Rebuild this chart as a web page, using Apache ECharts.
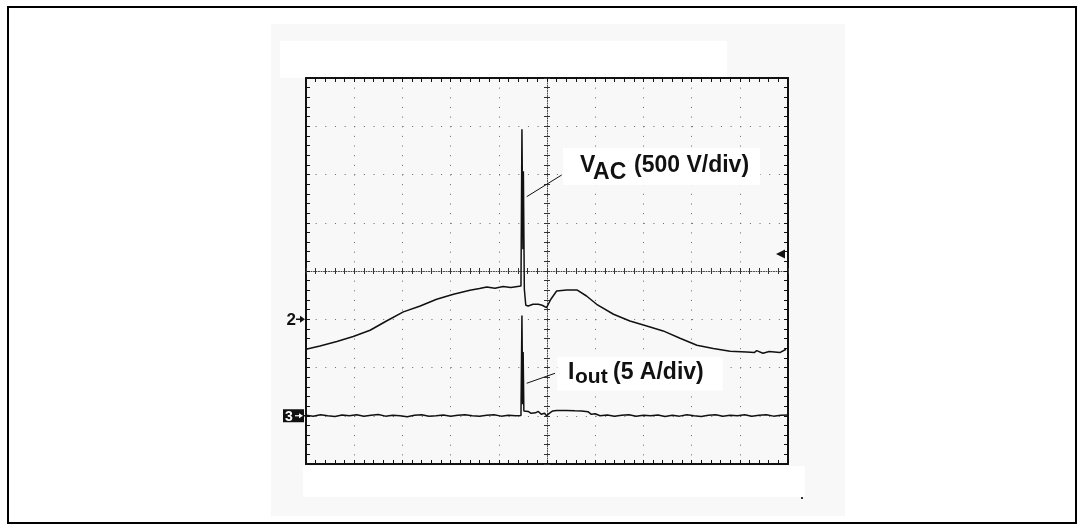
<!DOCTYPE html>
<html>
<head>
<meta charset="utf-8">
<script src="https://cdn.jsdelivr.net/npm/echarts@6/dist/echarts.min.js"></script>
<style>
  html, body { margin: 0; padding: 0; background: #ffffff; }
  #scope { width: 1084px; height: 531px; }
</style>
</head>
<body>
<div id="scope"></div>
<script>
// Scope screen: 10 horizontal divisions (time), 8 vertical divisions.
// Channel 2 = line voltage (500 V/div), channel 3 = output current (5 A/div).
const VOLTS_PER_DIV = 500;
const AMPS_PER_DIV = 5;
const CH2_OFFSET_DIV = -1;   // ground marker "2"
const CH3_OFFSET_DIV = -3;   // ground marker "3"
const TRIGGER_V = 675;       // trigger level on channel 2

// Channel 2: V_AC (time in divisions, volts)
const vacT = [0.00, 0.29, 0.64, 0.98, 1.33, 1.67, 2.02, 2.37, 2.71, 3.06, 3.40, 3.60, 3.75, 3.92, 4.09, 4.25, 4.46,
              4.48, 4.50, 4.51, 4.53, 4.56,
              4.61, 4.71, 4.82, 4.90, 4.99, 5.08, 5.20, 5.41, 5.62, 5.82, 6.03, 6.38, 6.72, 7.07, 7.41, 7.76,
              8.11, 8.45, 8.80, 9.14, 9.30, 9.35, 9.48, 9.61, 9.83, 9.96];
const vacV = [-311, -277, -231, -179, -114, -18, 76, 138, 207, 259, 301, 318, 335, 321, 339, 330, 345,
              1969, 725, 1534, 311, 145,
              138, 155, 155, 145, 121, 207, 293, 304, 304, 241, 155, 52, -18, -69, -121, -197,
              -269, -304, -332, -339, -345, -325, -352, -335, -345, -311];

// Channel 3: I_out (time in divisions, amperes)
const ioutT = [0, 0.15, 0.3, 0.45, 0.6, 0.75, 0.9, 1.05, 1.2, 1.35, 1.5, 1.65, 1.8, 1.95, 2.1, 2.25, 2.4, 2.55,
               2.7, 2.85, 3.0, 3.15, 3.3, 3.45, 3.6, 3.75, 3.9, 4.05, 4.2, 4.35, 4.46,
               4.47, 4.48, 4.495, 4.505, 4.52,
               4.61, 4.67, 4.71, 4.76, 4.82, 4.88, 4.95, 4.99, 5.06, 5.12, 5.2, 5.4, 5.58, 5.72, 5.85, 5.92, 6.0, 6.1,
               6.25, 6.4, 6.55, 6.7, 6.85, 7.0, 7.15, 7.3, 7.45, 7.6, 7.75, 7.9, 8.05, 8.2, 8.35, 8.5, 8.65,
               8.8, 8.95, 9.1, 9.25, 9.4, 9.55, 9.7, 9.85, 10];
const ioutA = [0.05, -0.05, 0.1, 0, -0.08, 0.08, 0, 0.1, -0.05, 0.05, 0.12, -0.04, 0.06, 0, -0.1, 0.05, 0.1, -0.05,
               0, 0.08, -0.06, 0.04, 0.1, 0, -0.05, 0.06, 0.1, -0.04, 0.05, 0, 0.02,
               0.1, 10.4, 1.2, 6.6, 0.5,
               0.45, 0.25, 0.45, 0.3, 0.45, 0.15, 0.25, 0.0, 0.3, 0.5, 0.55, 0.55, 0.52, 0.5, 0.42, 0.15, 0.2, 0.0,
               0.08, -0.05, 0.05, 0.1, -0.05, 0.05, 0, 0.08, -0.08, 0.05, -0.04, 0.1, 0, -0.08, 0.06, 0.1, -0.05,
               0.05, 0, 0.1, -0.06, 0.06, 0.1, -0.04, 0.05, 0.08];

const INK = '#111111';
const DOT = '#6a6a6a';
const chart = echarts.init(document.getElementById('scope'), null, { renderer: 'canvas' });

function axis(extra) {
  return Object.assign({
    type: 'value', min: 0, max: 10, interval: 1,
    axisLabel: { show: false },
    axisLine: { show: true, onZero: false, lineStyle: { color: INK, width: 2 } },
    axisTick: { show: true, inside: true, length: 4, lineStyle: { color: INK, width: 1 } },
    minorTick: { show: true, splitNumber: 5, length: 4, lineStyle: { color: INK, width: 1 } },
    splitLine: { show: false },
    minorSplitLine: { show: false }
  }, extra);
}
const dotted = { show: true, lineStyle: { color: DOT, width: 1, type: [1, 8.65] } };
const centreLine = { show: true, onZero: false, lineStyle: { color: '#444', width: 1, type: [1, 1.5] } };
const centreTick = { show: true, inside: false, length: 3, lineStyle: { color: '#333', width: 1 } };
const centreMinor = { show: true, splitNumber: 5, length: 3, lineStyle: { color: '#333', width: 1 } };
const yRange = { min: -4, max: 4, interval: 1 };

chart.setOption({
  animation: false,
  backgroundColor: '#ffffff',
  grid: { left: 306, top: 78, width: 482, height: 386, show: false },
  xAxis: [
    axis({ position: 'bottom', splitLine: dotted }),
    axis({ position: 'top' }),
    axis({ position: 'bottom', offset: -193, axisLine: centreLine,
           axisTick: Object.assign({}, centreTick, { inside: true }), minorTick: centreMinor }),
    axis({ position: 'bottom', offset: -193, axisLine: { show: false, onZero: false },
           axisTick: centreTick, minorTick: centreMinor })
  ],
  yAxis: [
    axis(Object.assign({ position: 'left', splitLine: dotted }, yRange)),
    axis(Object.assign({ position: 'right' }, yRange)),
    axis(Object.assign({ position: 'left', offset: -241, axisLine: centreLine,
           axisTick: Object.assign({}, centreTick, { inside: true }), minorTick: centreMinor }, yRange)),
    axis(Object.assign({ position: 'left', offset: -241, axisLine: { show: false, onZero: false },
           axisTick: centreTick, minorTick: centreMinor }, yRange))
  ],
  series: [
    {
      name: 'V_AC', type: 'line', xAxisIndex: 0, yAxisIndex: 0,
      showSymbol: false, z: 5,
      lineStyle: { color: INK, width: 1.5 },
      data: vacT.map((t, i) => [t, vacV[i] / VOLTS_PER_DIV + CH2_OFFSET_DIV])
    },
    {
      name: 'I_out', type: 'line', xAxisIndex: 0, yAxisIndex: 0,
      showSymbol: false, z: 5,
      lineStyle: { color: INK, width: 1.5 },
      data: ioutT.map((t, i) => [t, ioutA[i] / AMPS_PER_DIV + CH3_OFFSET_DIV])
    }
  ]
});

// Pixel position of a point given in screen divisions
const P = (t, d) => chart.convertToPixel({ xAxisIndex: 0, yAxisIndex: 0 }, [t, d]);
const FONT = '"Liberation Sans", Arial, Helvetica, sans-serif';

function label(text, t, d, size) {
  const p = P(t, d);
  return {
    type: 'text', z: 120,
    style: { text: text, x: p[0], y: p[1] - 0.33 * size, font: 'bold ' + size + 'px ' + FONT,
             fill: INK, verticalAlign: 'middle', align: 'left' }
  };
}
function box(t0, d0, t1, d1) {
  const a = P(t0, d0), b = P(t1, d1);
  return { type: 'rect', z: 110, shape: { x: a[0], y: a[1], width: b[0] - a[0], height: b[1] - a[1] },
           style: { fill: '#ffffff' } };
}
function leader(t0, d0, t1, d1) {
  const a = P(t0, d0), b = P(t1, d1);
  return { type: 'line', z: 115, shape: { x1: a[0], y1: a[1], x2: b[0], y2: b[1] },
           style: { stroke: INK, lineWidth: 1 } };
}

const ch2 = P(0, CH2_OFFSET_DIV);
const ch3 = P(0, CH3_OFFSET_DIV);
const trig = P(10, TRIGGER_V / VOLTS_PER_DIV + CH2_OFFSET_DIV);

chart.setOption({
  graphic: [
    // page frame and screen panel
    { type: 'rect', z: -20, shape: { x: 8, y: 7, width: 1068, height: 516 },
      style: { fill: '#ffffff', stroke: '#000', lineWidth: 2 } },
    { type: 'rect', z: -10, shape: { x: 271, y: 24, width: 574, height: 492 },
      style: { fill: '#f8f8f8' } },
    { type: 'rect', z: -5, shape: { x: 280, y: 41, width: 447, height: 37 }, style: { fill: '#ffffff' } },
    { type: 'rect', z: -5, shape: { x: 303, y: 466, width: 502, height: 31 }, style: { fill: '#ffffff' } },
    { type: 'rect', z: -4, shape: { x: 801, y: 497, width: 2, height: 2 }, style: { fill: '#333' } },

    // channel 2 ground marker
    { type: 'text', z: 120, style: { text: '2', x: ch2[0] - 10, y: ch2[1] + 1, font: 'bold 17px ' + FONT,
      fill: INK, align: 'right', verticalAlign: 'middle' } },
    { type: 'line', z: 120, shape: { x1: ch2[0] - 10, y1: ch2[1], x2: ch2[0] - 3, y2: ch2[1] },
      style: { stroke: INK, lineWidth: 1.5 } },
    { type: 'polygon', z: 120, shape: { points: [[ch2[0] - 1, ch2[1]], [ch2[0] - 6, ch2[1] - 3.5], [ch2[0] - 6, ch2[1] + 3.5]] },
      style: { fill: INK } },

    // channel 3 ground marker
    { type: 'rect', z: 120, shape: { x: ch3[0] - 23, y: ch3[1] - 6.5, width: 21, height: 13 }, style: { fill: INK } },
    { type: 'text', z: 121, style: { text: '3', x: ch3[0] - 21, y: ch3[1] + 1, font: 'bold 14px ' + FONT,
      fill: '#ffffff', align: 'left', verticalAlign: 'middle' } },
    { type: 'line', z: 121, shape: { x1: ch3[0] - 11, y1: ch3[1], x2: ch3[0] - 6, y2: ch3[1] },
      style: { stroke: '#ffffff', lineWidth: 1.2 } },
    { type: 'polygon', z: 121, shape: { points: [[ch3[0] - 3, ch3[1]], [ch3[0] - 7, ch3[1] - 2.5], [ch3[0] - 7, ch3[1] + 2.5]] },
      style: { fill: '#ffffff' } },
    { type: 'line', z: 120, shape: { x1: ch3[0] - 2, y1: ch3[1], x2: ch3[0], y2: ch3[1] },
      style: { stroke: INK, lineWidth: 1.5 } },

    // trigger level marker
    { type: 'polygon', z: 120, shape: { points: [[trig[0] - 12, trig[1]], [trig[0] - 3, trig[1] - 4.5], [trig[0] - 3, trig[1] + 4.5]] },
      style: { fill: INK } },

    // V_AC annotation
    box(5.33, 2.55, 9.42, 1.78),
    leader(4.579, 1.54, 5.305, 1.99),
    label('V', 5.685, 2.03, 23),
    label('AC', 5.955, 1.886, 23),
    label('(500 V/div)', 6.805, 2.03, 23),

    // I_out annotation
    box(5.214, -1.776, 8.645, -2.481),
    leader(4.579, -2.327, 5.166, -2.12),
    label('I', 5.436, -2.259, 23),
    label('out', 5.581, -2.342, 21),
    label('(5 A/div)', 6.369, -2.259, 23)
  ]
});
</script>
</body>
</html>
